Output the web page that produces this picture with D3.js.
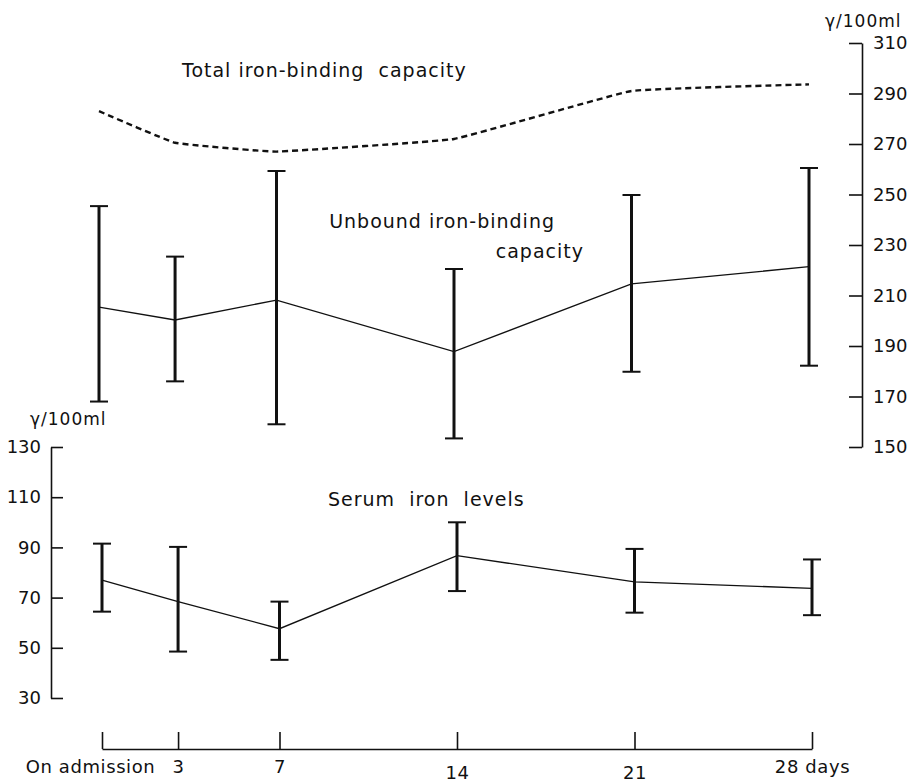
<!DOCTYPE html>
<html>
<head>
<meta charset="utf-8">
<script src="https://cdn.jsdelivr.net/npm/d3@7"></script>
<style>
  body { margin: 0; background: #fff; }
  text { font-family: "DejaVu Sans", sans-serif; fill: #111; white-space: pre; }
</style>
</head>
<body>
<div id="chart"></div>
<script>
document.addEventListener("DOMContentLoaded", function(){

  // days after admission
  var days = [0, 3, 7, 14, 21, 28];
  var dayLabels = ["On admission", "3", "7", "14", "21", "28 days"];

  // total iron-binding capacity (dashed)
  var tibc = [283, 270.5, 267, 272, 291, 293.6];

  // unbound iron-binding capacity, mean and range
  var uibcMean = [205.4, 200.3, 208.2, 187.8, 214.6, 221.4];
  var uibcHigh = [245.4, 225.4, 259.3, 220.5, 249.8, 260.5];
  var uibcLow  = [168, 176, 159, 153.4, 179.8, 182.2];

  // serum iron, mean and range
  var ironMean = [77, 68.4, 57.6, 86.7, 76.3, 73.7];
  var ironHigh = [91.5, 90.2, 68.4, 100, 89.4, 85.2];
  var ironLow  = [64.4, 48.5, 45.2, 72.6, 64, 63];

  var rightTicks = [150, 170, 190, 210, 230, 250, 270, 290, 310];
  var leftTicks = [30, 50, 70, 90, 110, 130];

  var width = 914, height = 783;

  var svg = d3.select("#chart").append("svg")
    .attr("width", width)
    .attr("height", height);

  var x = d3.scaleLinear().domain([0, 28]).range([102, 812]);
  var yTop = d3.scaleLinear().domain([150, 310]).range([447, 43]);
  var yBot = d3.scaleLinear().domain([30, 130]).range([698, 447]);

  // upper panel is drawn a touch left of the day ticks
  var xu = function(d) { return x(d) - 3; };

  // right axis
  var gR = svg.append("g")
    .attr("transform", "translate(862,0)")
    .call(d3.axisRight(yTop).tickValues(rightTicks).tickSize(-13).tickSizeOuter(0).tickPadding(11));

  // left axis
  var gL = svg.append("g")
    .attr("transform", "translate(51,0)")
    .call(d3.axisLeft(yBot).tickValues(leftTicks).tickSize(-12).tickSizeOuter(0).tickPadding(10));

  // x axis
  var gX = svg.append("g")
    .attr("transform", "translate(0,749)")
    .call(d3.axisBottom(x).tickValues(days).tickSize(-17).tickSizeOuter(0).tickPadding(11)
      .tickFormat(function(d, i) { return dayLabels[i]; }));

  [gR, gL, gX].forEach(function(g) {
    g.selectAll("path, line").attr("stroke", "#111").attr("stroke-width", 1.6);
    g.selectAll("text").style("font-size", "18px").attr("fill", "#111");
    g.attr("font-family", null).attr("font-size", null);
  });
  gX.selectAll(".tick text")
    .style("letter-spacing", "0.6px")
    .attr("dx", function(d) { return d === 0 ? -12 : 0; })
    .attr("dy", function(d) { return (d === 14 || d === 21) ? "1.05em" : "0.71em"; });

  // unit labels
  svg.append("text").attr("x", 825).attr("y", 27).style("font-size", "17px").style("letter-spacing", "1px").text("γ/100ml");
  svg.append("text").attr("x", 30).attr("y", 425).style("font-size", "17px").style("letter-spacing", "1px").text("γ/100ml");

  // total iron-binding capacity
  var lineTop = d3.line()
    .x(function(d, i) { return xu(days[i]); })
    .y(function(d) { return yTop(d); })
    .curve(d3.curveCardinal.tension(0.75));

  svg.append("path")
    .datum(tibc)
    .attr("d", lineTop)
    .attr("fill", "none")
    .attr("stroke", "#111")
    .attr("stroke-width", 2.4)
    .attr("stroke-dasharray", "6,4");

  function errorBars(mean, high, low, xf, y) {
    var g = svg.append("g");
    var line = d3.line()
      .x(function(d, i) { return xf(days[i]); })
      .y(function(d) { return y(d); });

    g.append("path")
      .datum(mean)
      .attr("d", line)
      .attr("fill", "none")
      .attr("stroke", "#111")
      .attr("stroke-width", 1.3);

    var bar = g.selectAll(".bar")
      .data(days)
      .enter().append("g")
      .attr("class", "bar");

    bar.append("line")
      .attr("x1", function(d) { return xf(d); })
      .attr("x2", function(d) { return xf(d); })
      .attr("y1", function(d, i) { return y(high[i]); })
      .attr("y2", function(d, i) { return y(low[i]); })
      .attr("stroke", "#111")
      .attr("stroke-width", 3);

    [high, low].forEach(function(vals) {
      bar.append("line")
        .attr("x1", function(d) { return xf(d) - 9; })
        .attr("x2", function(d) { return xf(d) + 9; })
        .attr("y1", function(d, i) { return y(vals[i]); })
        .attr("y2", function(d, i) { return y(vals[i]); })
        .attr("stroke", "#111")
        .attr("stroke-width", 2);
    });
  }

  errorBars(uibcMean, uibcHigh, uibcLow, xu, yTop);
  errorBars(ironMean, ironHigh, ironLow, x, yBot);

  // series captions
  function caption(tx, ty, anchor, s) {
    svg.append("text").attr("x", tx).attr("y", ty).attr("text-anchor", anchor)
      .style("font-size", "19px").style("letter-spacing", "1px").text(s);
  }
  caption(182, 77, "start", "Total iron-binding  capacity");
  caption(555, 228, "end", "Unbound iron-binding");
  caption(584, 258, "end", "capacity");
  caption(328, 506, "start", "Serum  iron  levels");

});
</script>
</body>
</html>
